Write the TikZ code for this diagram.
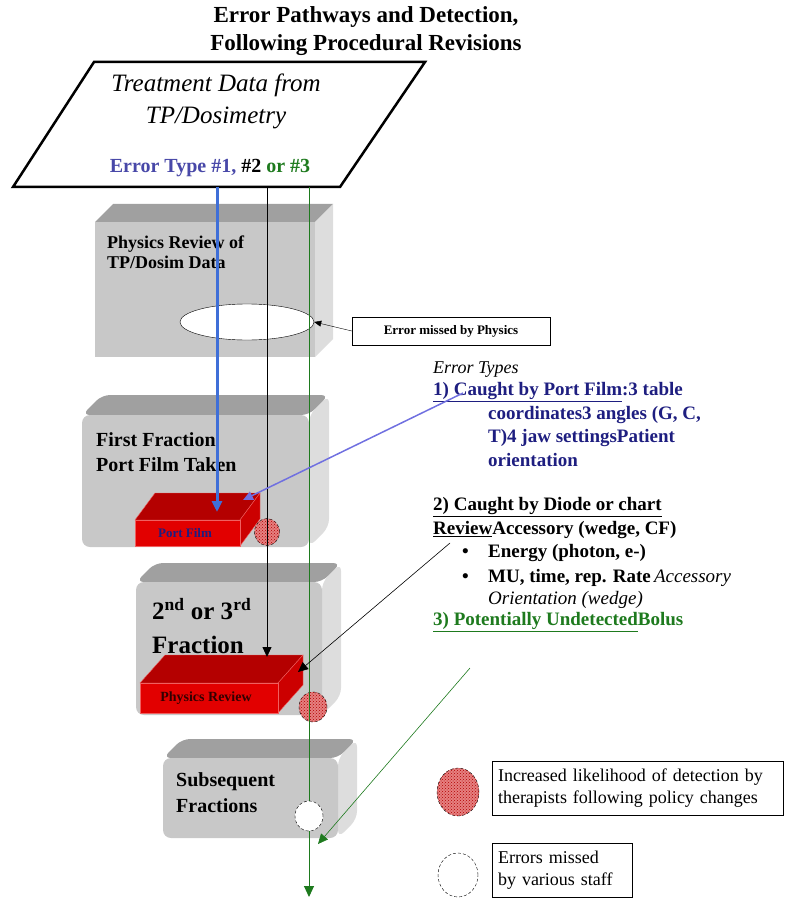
\documentclass[tikz,border=0pt]{standalone}
\usepackage{fontspec}
\setmainfont{Liberation Serif}
\usetikzlibrary{arrows.meta,shapes.geometric,patterns}

\definecolor{boxtop}{HTML}{A0A0A0}
\definecolor{boxfront}{HTML}{C8C8C8}
\definecolor{boxside}{HTML}{DDDDDD}
\definecolor{filmtop}{HTML}{B40000}
\definecolor{filmside}{HTML}{CC0000}
\definecolor{filmfront}{HTML}{E20000}
\definecolor{filmedge}{HTML}{F06060}
\definecolor{pathone}{HTML}{3F6FD8}
\definecolor{typeone}{HTML}{4848A8}
\definecolor{navytext}{HTML}{1E1E80}
\definecolor{greentext}{HTML}{1E7A1E}
\definecolor{pathlink}{HTML}{7070E0}
\definecolor{dotred}{HTML}{E68080}

\newcommand{\fs}[2]{\fontsize{#1}{#2}\selectfont}
% grey 3d block: front corners and depth
\newcommand{\greyblock}[6][]{%
  \fill[boxtop,#1] (#2,#3) -- ++(#6,-#6) -- (#4+#6,#3-#6) -- (#4,#3) -- cycle;
  \fill[boxside,#1] (#4,#3) -- (#4+#6,#3-#6) -- (#4+#6,#5-#6) -- (#4,#5) -- cycle;
  \fill[boxfront,#1] (#2,#3) rectangle (#4,#5);
}
% red slab inside a block
\newcommand{\filmslab}[6]{%
  \filldraw[filmtop, draw=filmedge] (#1,#2) -- ++(#5,-#6) -- (#3+#5,#2-#6) -- (#3,#2) -- cycle;
  \filldraw[filmside, draw=filmedge] (#3,#2) -- (#3+#5,#2-#6) -- (#3+#5,#4-#6) -- (#3,#4) -- cycle;
  \filldraw[filmfront, draw=filmedge] (#1,#2) rectangle (#3,#4);
}

\tikzset{
  hitdot/.style={ellipse, draw, densely dashed, fill=dotred, inner sep=0pt,
    postaction={pattern=crosshatch dots, pattern color=red!70!black}},
  missdot/.style={ellipse, draw, densely dashed, fill=white, inner sep=0pt},
  typeline/.style={anchor=west, inner sep=0pt, font=\bfseries\fs{19}{23}},
  blocklabel/.style={anchor=west, inner sep=0pt, align=left},
  keybox/.style={draw, minimum height=54pt, align=left, font=\fs{18}{22}},
}

\begin{document}
\begin{tikzpicture}[x=1pt,y=-1pt]
	\useasboundingbox (0,0) rectangle (785,901);

	\node[font=\bfseries\fs{23}{28}, align=center] (title) at (366,31)
	{Error Pathways and Detection,\\Following Procedural Revisions};

	% data source
	\draw[line width=2.5pt] (94,62) -- (425,62) -- (340,187) -- (13,187) -- cycle;
	\node[font=\itshape\fs{25}{32}, align=center] (treat) at (216,101)
	{Treatment Data from\\TP/Dosimetry};
	\node[font=\bfseries\fs{20}{24}] (errtype) at (210,168)
	{\textcolor{typeone}{Error Type \#1,} \#2 \textcolor{greentext}{or \#3}};

	% blocks
	\greyblock{95}{222}{315}{357}{18}
	\greyblock[rounded corners=8pt]{82}{415}{309}{547}{20}
	\greyblock[rounded corners=8pt]{136}{582}{322}{715}{19}
	\greyblock[rounded corners=8pt]{163}{758}{338}{838}{19}

	\node[blocklabel, font=\bfseries\fs{18}{20}] (physlabel) at (107,252)
	{Physics Review of\\TP/Dosim Data};
	\node[blocklabel, font=\bfseries\fs{20}{25}] (firstlabel) at (96,452)
	{First Fraction\\Port Film Taken};
	\node[blocklabel, font=\bfseries\fs{25}{34}] (secondlabel) at (152,626)
	{2\textsuperscript{nd} or 3\textsuperscript{rd}\\Fraction};
	\node[blocklabel, font=\bfseries\fs{20}{26}] (sublabel) at (176,793)
	{Subsequent\\Fractions};

	\filmslab{135}{520}{240}{546}{20}{27}
	\filmslab{140}{683}{278}{713}{25}{28}
	\node[navytext, font=\bfseries\fs{13}{15}] (filmlabel) at (185,533) {Port Film};
	\node[black!80!red, font=\bfseries\fs{14}{16}] (reviewlabel) at (206,698) {Physics Review};

	\node[ellipse, draw, fill=white, minimum width=134pt, minimum height=36pt, inner sep=0pt]
	(missphys) at (247,322) {};
	\node[draw, fill=white, minimum width=198pt, minimum height=28pt, font=\bfseries\fs{13}{15}]
	(missnote) at (451,331) {Error missed by Physics};
	\draw[-{Triangle[length=7pt,width=6pt]}] (missnote.west) -- (missphys.east);

	\node[hitdot, minimum width=25pt, minimum height=27pt] (hitone) at (267,532) {};
	\node[hitdot, minimum width=28pt, minimum height=30pt] (hittwo) at (313,707) {};

	% error pathways
	\coordinate (fromone) at (217,187);
	\coordinate (fromtwo) at (267,187);
	\coordinate (fromthree) at (309,187);
	\coordinate (filmhit) at (217,512);
	\coordinate (reviewhit) at (267,657);
	\coordinate (endthree) at (309,897);
	\draw[pathone, line width=3pt, -{Triangle[length=11pt,width=10pt]}] (fromone) -- (filmhit);
	\draw[line width=0.8pt, -{Triangle[length=10pt,width=9pt]}] (fromtwo) -- (reviewhit);
	\draw[greentext, line width=1pt, -{Triangle[length=11pt,width=10pt]}] (fromthree) -- (endthree);

	\node[missdot, minimum width=28pt, minimum height=30pt] (missone) at (309,816) {};

	% error types
	\node[typeline, font=\itshape\fs{18}{22}] (typehead) at (433,370) {Error Types};
	\node[typeline, navytext] (typeonea) at (433,392) {\underline{1) Caught by Port Film}:3 table};
	\node[typeline, navytext] (typeoneb) at (488,415) {coordinates3 angles (G, C,};
	\node[typeline, navytext] (typeonec) at (488,438) {T)4 jaw settingsPatient};
	\node[typeline, navytext] (typeoned) at (488,460) {orientation};
	\node[typeline] (typetwoa) at (433,507) {\underline{2) Caught by Diode or chart}};
	\node[typeline] (typetwob) at (433,530) {\underline{Review}Accessory (wedge, CF)};
	\node[typeline] (bulletone) at (462,553) {\textbullet};
	\node[typeline] (typetwoc) at (488,553) {Energy (photon, e-)};
	\node[typeline] (bullettwo) at (462,578) {\textbullet};
	\node[typeline] (typetwod) at (488,578) {MU, time, rep. Rate\,{\mdseries\itshape Accessory}};
	\node[typeline, font=\itshape\fs{19}{23}] (typetwoe) at (488,600) {Orientation (wedge)};
	\node[typeline, greentext] (typethree) at (433,622) {\underline{3) Potentially Undetected}Bolus};

	\coordinate (linkone) at (463,393);
	\coordinate (filmtip) at (243,500);
	\coordinate (linktwo) at (450,543);
	\coordinate (reviewtip) at (298,672);
	\coordinate (linkthree) at (470,668);
	\coordinate (subtip) at (318,844);
	\draw[pathlink, line width=1.5pt, -{Triangle[length=10pt,width=9pt]}] (linkone) -- (filmtip);
	\draw[line width=0.6pt, -{Triangle[length=10pt,width=9pt]}] (linktwo) -- (reviewtip);
	\draw[greentext, line width=0.6pt, -{Triangle[length=10pt,width=9pt]}] (linkthree) -- (subtip);

	% key
	\node[hitdot, minimum width=42pt, minimum height=48pt] (keyhit) at (458,792) {};
	\node[keybox, minimum width=291pt, text width=279pt] (keyhittext) at (637.5,788)
	{Increased likelihood of detection by\\therapists following policy changes};
	\node[missdot, minimum width=40pt, minimum height=44pt] (keymiss) at (458,875) {};
	\node[keybox, minimum width=140pt, text width=128pt] (keymisstext) at (562,870)
	{Errors missed\\by various staff};
\end{tikzpicture}
\end{document}
